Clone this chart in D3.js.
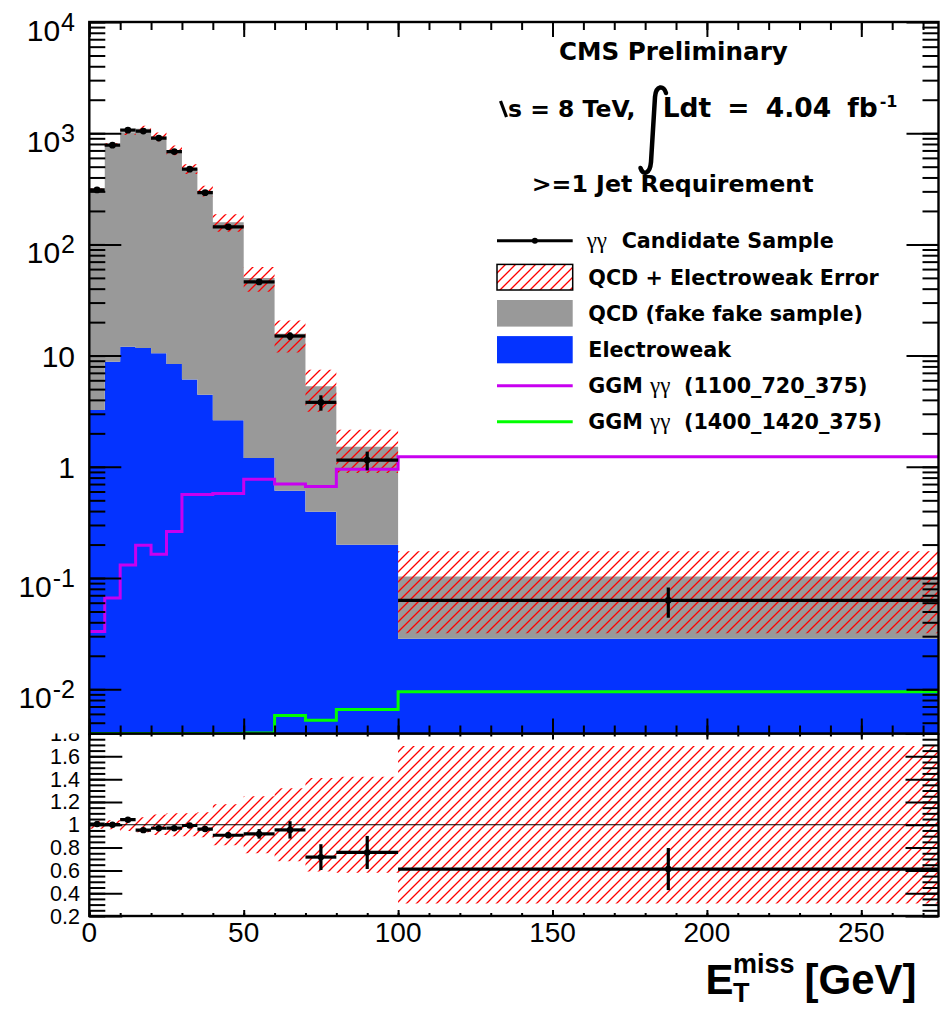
<!DOCTYPE html>
<html>
<head>
<meta charset="utf-8">
<script src="https://cdn.jsdelivr.net/npm/d3@7"></script>
<style>
  body { margin: 0; background: #fff; }
  svg { display: block; }
  text { font-family: "Liberation Sans", Arial, Helvetica, sans-serif; fill: #000; }
  .bold { font-family: "DejaVu Sans", sans-serif; font-weight: bold; }
  .greek { font-family: "Liberation Serif", "DejaVu Serif", serif; font-weight: normal; }
</style>
</head>
<body>
<svg id="chart" width="942" height="1010"></svg>
<script>
// Missing transverse energy spectrum (events / GeV), >=1 jet selection
const binEdges     = [0, 5, 10, 15, 20, 25, 30, 35, 40, 50, 60, 70, 80, 100, 275];
const candidate    = [309, 780, 1065, 1045, 904, 684, 475, 292, 144, 46, 15, 3.8, 1.15, 0.063];
const candidateErr = [7.9, 12.5, 14.6, 14.5, 13.4, 11.7, 9.7, 7.6, 3.8, 2.1, 1.2, 0.6, 0.22, 0.019];
const electroweak  = [3.24, 8.8, 12.0, 11.7, 10.5, 8.4, 6.1, 4.45, 2.62, 1.2, 0.61, 0.394, 0.199, 0.0285];
const qcd          = [304, 771, 1008, 1085, 922, 697, 472, 299, 156, 48.8, 15.1, 4.91, 1.32, 0.0745];
const bkgRelErr    = [0.035, 0.04, 0.055, 0.065, 0.09, 0.1, 0.1, 0.11, 0.18, 0.25, 0.32, 0.41, 0.42, 0.69];
const ggm1100      = [0.033, 0.066, 0.131, 0.197, 0.164, 0.262, 0.564, 0.564, 0.575, 0.775, 0.70, 0.666, 0.953, 1.23];
const ggm1400      = [0, 0, 0, 0, 0, 0, 0, 0, 0, 0.00405, 0.00582, 0.00525, 0.00659, 0.0095];

// Axis ticks and labels
const xMajorTicks   = [0, 50, 100, 150, 200, 250];
const xTickLabels   = ["0", "50", "100", "150", "200", "250"];
const yTopMajor     = [1e-2, 1e-1, 1, 10, 1e2, 1e3, 1e4];
const yTopLabels    = [["10", "-2"], ["10", "-1"], ["1", ""], ["10", ""], ["10", "2"], ["10", "3"], ["10", "4"]];
const ratioMajor    = [0.2, 0.4, 0.6, 0.8, 1.0, 1.2, 1.4, 1.6, 1.8];
const ratioLabels   = ["0.2", "0.4", "0.6", "0.8", "1", "1.2", "1.4", "1.6", "1.8"];

// Colours
const C_EWK = "#0433ff", C_QCD = "#999999", C_HATCH = "#ff0000",
      C_GGM1 = "#c800f0", C_GGM2 = "#00ff00";

const W = 942, H = 1010;
const L = 89.3, R = 938.5, T = 22, MID = 733.5, B = 916;

const x = d3.scaleLinear().domain([0, 275]).range([L, R]);
const yTop = d3.scaleLog().domain([0.004, 1e4]).range([MID, T]);
const yRat = d3.scaleLinear().domain([0.2, 1.8]).range([B, MID]);
const yMin = yTop.domain()[0];
const ty = v => yTop(Math.max(v, yMin));

const bins = binEdges.slice(0, -1).map((lo, i) => {
  const hi = binEdges[i + 1];
  const total = qcd[i] + electroweak[i];
  return {
    lo, hi, mid: (lo + hi) / 2,
    data: candidate[i], err: candidateErr[i],
    ewk: electroweak[i], total,
    rel: bkgRelErr[i],
    ratio: candidate[i] / total,
    ratioErr: candidateErr[i] / total
  };
});
// step outline: one point per lower edge plus the final upper edge
const stepRows = bins.map(b => ({ e: b.lo, ...b }))
  .concat([{ ...bins[bins.length - 1], e: bins[bins.length - 1].hi }]);

const svg = d3.select("#chart");
const defs = svg.append("defs");

const pat = defs.append("pattern")
  .attr("id", "hatch").attr("patternUnits", "userSpaceOnUse")
  .attr("width", 10).attr("height", 10);
pat.append("path")
  .attr("d", "M-2,2 L2,-2 M0,10 L10,0 M8,12 L12,8")
  .attr("stroke", C_HATCH).attr("stroke-width", 1.3);

defs.append("clipPath").attr("id", "clipTop")
  .append("rect").attr("x", L).attr("y", T).attr("width", R - L).attr("height", MID - T);
defs.append("clipPath").attr("id", "clipLow")
  .append("rect").attr("x", L).attr("y", MID).attr("width", R - L).attr("height", B - MID);

function ticks(g, axisFn, scale, values, size, tr) {
  const a = g.append("g").attr("transform", tr)
    .call(axisFn(scale).tickValues(values).tickSize(size).tickFormat(""));
  a.select(".domain").remove();
  a.selectAll("line").attr("stroke", "#000").attr("stroke-width", 2);
}

function dataMarks(g, xs, ys, list, valKey, errKey, r) {
  const pts = g.selectAll(null).data(list).enter().append("g");
  pts.append("line")
    .attr("x1", d => xs(d.lo)).attr("x2", d => xs(d.hi))
    .attr("y1", d => ys(d[valKey])).attr("y2", d => ys(d[valKey]))
    .attr("stroke", "#000").attr("stroke-width", 3.2);
  pts.append("line")
    .attr("x1", d => xs(d.mid)).attr("x2", d => xs(d.mid))
    .attr("y1", d => ys(d[valKey] + d[errKey])).attr("y2", d => ys(d[valKey] - d[errKey]))
    .attr("stroke", "#000").attr("stroke-width", 3.2);
  pts.append("circle")
    .attr("cx", d => xs(d.mid)).attr("cy", d => ys(d[valKey])).attr("r", r)
    .attr("fill", "#000");
}

/* ---------------- lower (ratio) panel ---------------- */
const lowPanel = svg.append("g");
const lowPlot = lowPanel.append("g").attr("clip-path", "url(#clipLow)");

lowPlot.append("path")
  .attr("d", d3.area().curve(d3.curveStepAfter)
    .x(d => x(d.e)).y0(d => yRat(1 - d.rel)).y1(d => yRat(1 + d.rel))(stepRows))
  .attr("fill", "url(#hatch)");

lowPlot.append("line")
  .attr("x1", L).attr("x2", R).attr("y1", yRat(1)).attr("y2", yRat(1))
  .attr("stroke", "#000").attr("stroke-width", 1.2);

dataMarks(lowPlot, x, yRat, bins, "ratio", "ratioErr", 3.2);

const ratioMinor = d3.range(0.2, 1.8001, 0.05);
ticks(lowPanel, d3.axisLeft, yRat, ratioMinor, -16, `translate(${L},0)`);
ticks(lowPanel, d3.axisLeft, yRat, ratioMajor, -33, `translate(${L},0)`);
ticks(lowPanel, d3.axisRight, yRat, ratioMinor, -16, `translate(${R},0)`);
ticks(lowPanel, d3.axisRight, yRat, ratioMajor, -33, `translate(${R},0)`);
const xMinor = d3.range(0, 271, 10);
ticks(lowPanel, d3.axisBottom, x, xMinor, -3, `translate(0,${B})`);
ticks(lowPanel, d3.axisBottom, x, xMajorTicks, -6, `translate(0,${B})`);
ticks(lowPanel, d3.axisTop, x, xMinor, -3, `translate(0,${MID})`);
ticks(lowPanel, d3.axisTop, x, xMajorTicks, -6, `translate(0,${MID})`);

lowPanel.append("rect").attr("x", L).attr("y", MID).attr("width", R - L).attr("height", B - MID)
  .attr("fill", "none").attr("stroke", "#000").attr("stroke-width", 2.4);

lowPanel.selectAll(null).data(ratioMajor).enter().append("text")
  .attr("x", 80).attr("y", d => yRat(d) + 7.5)
  .attr("text-anchor", "end").attr("font-size", 21.5)
  .text((d, i) => ratioLabels[i]);

lowPanel.selectAll(null).data(xMajorTicks).enter().append("text")
  .attr("x", d => x(d)).attr("y", 941.7)
  .attr("text-anchor", "middle").attr("font-size", 28)
  .text((d, i) => xTickLabels[i]);

// axis title: E_T^miss [GeV]
const xTitle = lowPanel.append("text").attr("font-weight", "bold").attr("y", 994);
xTitle.append("tspan").attr("x", 705.5).attr("font-size", 42).text("E");
xTitle.append("tspan").attr("x", 733).attr("dy", 8).attr("font-size", 27).text("T");
xTitle.append("tspan").attr("x", 733).attr("dy", -29).attr("font-size", 27).text("miss");
xTitle.append("tspan").attr("x", 804.5).attr("dy", 21).attr("font-size", 42).text("[GeV]");

/* ---------------- upper (spectrum) panel ---------------- */
svg.append("rect").attr("x", 0).attr("y", 0).attr("width", W).attr("height", MID).attr("fill", "#fff");

const upper = svg.append("g");
const plot = upper.append("g").attr("clip-path", "url(#clipTop)");

// stacked backgrounds: electroweak at the bottom, QCD on top
const stepArea = d3.area().curve(d3.curveStepAfter).x(d => x(d.e));
plot.append("path")
  .attr("d", stepArea.y0(MID).y1(d => ty(d.ewk))(stepRows))
  .attr("fill", C_EWK);
plot.append("path")
  .attr("d", stepArea.y0(d => ty(d.ewk)).y1(d => ty(d.total))(stepRows))
  .attr("fill", C_QCD);

// background uncertainty band
plot.append("path")
  .attr("d", stepArea.y0(d => ty(d.total * (1 - d.rel))).y1(d => ty(d.total * (1 + d.rel)))(stepRows))
  .attr("fill", "url(#hatch)");

// signal model histograms
const stepLine = d3.line().curve(d3.curveStepAfter).x(d => x(d[0])).y(d => ty(d[1]));
function stepPoints(vals) {
  const p = vals.map((v, i) => [binEdges[i], v]);
  p.push([binEdges[binEdges.length - 1], vals[vals.length - 1]]);
  return p;
}
plot.append("path").attr("d", stepLine(stepPoints(ggm1400)))
  .attr("fill", "none").attr("stroke", C_GGM2).attr("stroke-width", 3);
plot.append("path").attr("d", stepLine(stepPoints(ggm1100)))
  .attr("fill", "none").attr("stroke", C_GGM1).attr("stroke-width", 3);

// candidate sample
dataMarks(plot, x, ty, bins, "data", "err", 3.4);

// frame and ticks
const yMinorTop = yTop.ticks();
ticks(upper, d3.axisLeft, yTop, yMinorTop, -16, `translate(${L},0)`);
ticks(upper, d3.axisLeft, yTop, yTopMajor, -32, `translate(${L},0)`);
ticks(upper, d3.axisRight, yTop, yMinorTop, -16, `translate(${R},0)`);
ticks(upper, d3.axisRight, yTop, yTopMajor, -32, `translate(${R},0)`);
ticks(upper, d3.axisBottom, x, xMinor, -8, `translate(0,${MID})`);
ticks(upper, d3.axisBottom, x, xMajorTicks, -15, `translate(0,${MID})`);
ticks(upper, d3.axisTop, x, xMinor, -8, `translate(0,${T})`);
ticks(upper, d3.axisTop, x, xMajorTicks, -15, `translate(0,${T})`);

upper.append("rect").attr("x", L).attr("y", T).attr("width", R - L).attr("height", MID - T)
  .attr("fill", "none").attr("stroke", "#000").attr("stroke-width", 2.4);

yTopMajor.forEach((v, i) => {
  const [base, exp] = yTopLabels[i];
  const t = upper.append("text").attr("x", 75).attr("text-anchor", "end").attr("font-size", 30);
  if (exp) {
    t.attr("y", yTop(v) + 19);
    t.append("tspan").text(base);
    t.append("tspan").attr("font-size", 25).attr("dx", 1).attr("dy", -10).text(exp);
  } else {
    t.attr("y", yTop(v) + 11).text(base);
  }
});

/* ---------------- annotations ---------------- */
const ann = svg.append("g");
ann.append("text").attr("class", "bold").attr("x", 559).attr("y", 60)
  .attr("font-size", 24.6).text("CMS Preliminary");

ann.append("path").attr("d", "M500.5,101 L506.5,117")
  .attr("stroke", "#000").attr("stroke-width", 3.2).attr("fill", "none");
ann.append("text").attr("class", "bold").attr("x", 508).attr("y", 116.7)
  .attr("font-size", 23.5).text("s = 8 TeV,");
ann.append("path")
  .attr("d", "M666,93 C664,85 656,85 655,97 L651,162 C650,174 643,176 640.5,168")
  .attr("stroke", "#000").attr("stroke-width", 4.5).attr("fill", "none").attr("stroke-linecap", "round");

// luminosity words, spread over the same span
const lumiWords = ["Ldt", "=", "4.04", "fb"];
const lumiNodes = lumiWords.map(w => ann.append("text").attr("class", "bold")
  .attr("y", 116.7).attr("font-size", 26.5).text(w));
const lumiWidths = lumiNodes.map(n => n.node().getComputedTextLength());
const lumiGap = (215 - d3.sum(lumiWidths)) / (lumiWords.length - 1);
let lx = 662.7;
lumiNodes.forEach((n, i) => { n.attr("x", lx); lx += lumiWidths[i] + lumiGap; });
ann.append("text").attr("class", "bold").attr("x", lx - lumiGap + 2).attr("y", 107)
  .attr("font-size", 16).text("-1");
ann.append("text").attr("class", "bold").attr("x", 531.7).attr("y", 191.7)
  .attr("font-size", 23.7).text(">=1 Jet Requirement");

/* ---------------- legend ---------------- */
const leg = svg.append("g");
const rowY = [240.7, 277.2, 313.3, 349.7, 385.7, 421.7];
const sx0 = 497, sx1 = 572.7, tx = 588.3, fs = 20.7;

leg.append("line").attr("x1", sx0).attr("x2", sx1).attr("y1", rowY[0]).attr("y2", rowY[0])
  .attr("stroke", "#000").attr("stroke-width", 3);
leg.append("circle").attr("cx", (sx0 + sx1) / 2).attr("cy", rowY[0]).attr("r", 3).attr("fill", "#000");
leg.append("text").attr("class", "greek").attr("x", 586.7).attr("y", rowY[0] + 7.5)
  .attr("font-size", 23).text("γγ");
leg.append("text").attr("class", "bold").attr("x", 621.7).attr("y", rowY[0] + 7.5)
  .attr("font-size", fs).text("Candidate Sample");

leg.append("rect").attr("x", sx0).attr("y", rowY[1] - 12.8).attr("width", sx1 - sx0).attr("height", 25.6)
  .attr("fill", "url(#hatch)").attr("stroke", "#000").attr("stroke-width", 1.5);
leg.append("text").attr("class", "bold").attr("x", tx).attr("y", rowY[1] + 7.5)
  .attr("font-size", fs).text("QCD + Electroweak Error");

leg.append("rect").attr("x", sx0).attr("y", rowY[2] - 13.3).attr("width", sx1 - sx0).attr("height", 26.6)
  .attr("fill", C_QCD);
leg.append("text").attr("class", "bold").attr("x", tx).attr("y", rowY[2] + 7.5)
  .attr("font-size", fs).text("QCD (fake fake sample)");

leg.append("rect").attr("x", sx0).attr("y", rowY[3] - 13.6).attr("width", sx1 - sx0).attr("height", 27.2)
  .attr("fill", C_EWK);
leg.append("text").attr("class", "bold").attr("x", tx).attr("y", rowY[3] + 7.5)
  .attr("font-size", fs).text("Electroweak");

[[rowY[4], C_GGM1, "(1100_720_375)"], [rowY[5], C_GGM2, "(1400_1420_375)"]].forEach(([yy, col, lab]) => {
  leg.append("line").attr("x1", sx0).attr("x2", sx1).attr("y1", yy).attr("y2", yy)
    .attr("stroke", col).attr("stroke-width", 3);
  leg.append("text").attr("class", "bold").attr("x", tx).attr("y", yy + 7.5)
    .attr("font-size", fs).text("GGM");
  leg.append("text").attr("class", "greek").attr("x", 650).attr("y", yy + 7.5)
    .attr("font-size", 23).text("γγ");
  leg.append("text").attr("class", "bold").attr("x", 684).attr("y", yy + 7.5)
    .attr("font-size", fs).text(lab);
});
</script>
</body>
</html>
